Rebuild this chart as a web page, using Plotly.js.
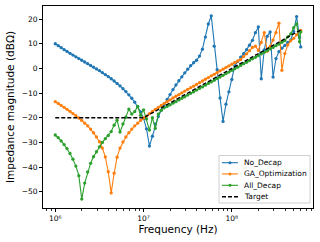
<!DOCTYPE html>
<html>
<head>
<meta charset="utf-8">
<script src="https://cdn.plot.ly/plotly-3.0.1.min.js"></script>
<style>html,body{margin:0;padding:0;background:#fff;}#chart{width:320px;height:242px;}</style>
</head>
<body>
<div id="chart"></div>
<script>
// Frequency samples (MHz)
var freqMHz = [1.000, 1.080, 1.166, 1.259, 1.359, 1.468, 1.585, 1.711, 1.848, 1.995,
  2.154, 2.326, 2.512, 2.712, 2.929, 3.162, 3.415, 3.687, 3.981, 4.299,
  4.642, 5.012, 5.412, 5.843, 6.310, 6.813, 7.356, 7.943, 8.577, 9.261,
  10.00, 10.80, 11.66, 12.59, 13.59, 14.68, 15.85, 17.11, 18.48, 19.95,
  21.54, 23.26, 25.12, 27.12, 29.29, 31.62, 34.15, 36.87, 39.81, 42.99,
  46.42, 50.12, 54.12, 58.43, 63.10, 68.13, 73.56, 79.43, 85.77, 92.61,
  100.0, 108.0, 116.6, 125.9, 135.9, 146.8, 158.5, 171.1, 184.8, 199.5,
  215.4, 232.6, 251.2, 271.2, 292.9, 316.2, 341.5, 368.7, 398.1, 429.9,
  464.2, 501.2, 541.2, 584.3, 602.6];

var noDecap = [10.0, 9.2, 8.4, 7.6, 6.9, 6.1, 5.4, 4.7, 4.0, 3.3,
  2.6, 1.9, 1.2, 0.5, -0.2, -0.9, -1.7, -2.5, -3.3, -4.2,
  -5.1, -6.1, -7.1, -8.2, -9.4, -10.7, -12.1, -13.7, -15.5, -17.6,
  -20.3, -24.5, -31.5, -27.5, -22.5, -19.5, -17.0, -14.7, -12.6, -10.6,
  -8.6, -6.7, -5.0, -3.4, -1.8, -0.3, 1.1, 2.3, 3.3, 5.0,
  7.8, 12.7, 18.0, 21.3, 9.0, -0.5, -12.0, -21.5, -14.5, -9.5,
  -4.5, 1.0, 2.8, 4.6, 6.0, 7.6, 9.4, 11.4, 14.5, 16.8,
  -4.2, 7.5, 13.0, 14.8, -3.5, 4.0, 6.8, 8.2, 9.3, 10.5,
  11.5, 15.0, 21.0, 12.5, 8.7];

var gaOptimization = [-13.5, -14.2, -15.0, -15.8, -16.6, -17.4, -18.3, -19.2, -20.1, -21.1,
  -22.2, -23.3, -24.6, -26.1, -27.8, -29.7, -32.3, -35.9, -41.9, -50.5,
  -42.5, -36.0, -32.3, -29.8, -27.8, -26.1, -24.6, -23.3, -22.2, -21.1,
  -20.1, -19.4, -18.3, -17.4, -16.6, -15.8, -15.0, -14.2, -13.5, -12.8,
  -12.0, -11.3, -10.6, -9.9, -9.2, -8.5, -7.8, -7.2, -6.5, -5.8,
  -5.1, -4.4, -3.7, -3.0, -2.4, -1.7, -1.0, -0.3, 0.4, 1.0,
  1.7, 2.4, 3.0, 3.6, 4.8, 5.9, 7.2, 8.5, 9.0, 7.3,
  10.5, 14.5, 7.0, 8.9, 11.5, 14.5, 18.3, -0.8, 6.0, 9.5,
  11.2, 12.2, 13.6, 15.0, 15.4];

var allDecap = [-27.0, -28.1, -29.4, -30.9, -32.5, -34.5, -36.8, -39.6, -43.5, -53.0,
  -46.5, -42.0, -38.5, -35.8, -33.8, -31.8, -30.0, -28.5, -27.2, -25.6,
  -23.0, -21.0, -25.8, -22.5, -19.8, -16.5, -18.5, -17.5, -15.4, -19.0,
  -16.8, -20.5, -25.0, -20.0, -24.3, -18.5, -17.0, -16.0, -15.4, -14.8,
  -14.1, -13.5, -12.8, -12.1, -11.5, -10.8, -10.1, -9.5, -8.8, -8.1,
  -7.5, -6.8, -6.1, -5.5, -4.8, -4.1, -3.5, -2.8, -2.1, -1.5,
  -0.8, -0.1, 0.5, 1.2, 1.9, 2.5, 3.2, 3.9, 4.5, 5.2,
  5.9, 6.5, 7.2, 7.9, 8.5, 9.2, 9.9, 10.6, 11.3, 12.8,
  14.0, 16.5, 18.0, 10.8, 14.8];

var targetFreqMHz = [1.0, 10.0, 602.6];
var target = [-20.0, -20.0, 15.6];

var seriesNames = ["No_Decap", "GA_Optimization", "All_Decap", "Target"];
var seriesColors = ["#1f77b4", "#ff7f0e", "#2ca02c", "#000000"];

var xTickVals = [1e6, 1e7, 1e8];
var xTickText = ["10⁶", "10⁷", "10⁸"];
var xMinorVals = [8e5, 9e5, 2e6, 3e6, 4e6, 5e6, 6e6, 7e6, 8e6, 9e6,
  2e7, 3e7, 4e7, 5e7, 6e7, 7e7, 8e7, 9e7, 2e8, 3e8, 4e8, 5e8, 6e8, 7e8, 8e8];

function hz(a) { return a.map(function (v) { return v * 1e6; }); }
var f = hz(freqMHz);
var series = [noDecap, gaOptimization, allDecap];

var traces = series.map(function (ys, i) {
  return {
    x: f, y: ys, type: "scatter", mode: "lines+markers", name: seriesNames[i],
    line: { color: seriesColors[i], width: 1.1 },
    marker: { color: seriesColors[i], size: 3.3 },
    showlegend: false
  };
});
traces.push({
  x: hz(targetFreqMHz), y: target, type: "scatter", mode: "lines", name: seriesNames[3],
  line: { color: seriesColors[3], width: 1.4, dash: "4px,2px" }, showlegend: false
});

// plot area in pixels
var L = 43, R = 7, T = 6, B = 34, W = 320, H = 242;
var pw = W - L - R, ph = H - T - B;
function px2x(p) { return (p - L) / pw; }
function px2y(p) { return (H - B - p) / ph; }

var shapes = [{
  type: "rect", xref: "paper", yref: "paper",
  x0: px2x(219), x1: px2x(310), y0: px2y(203), y1: px2y(155.5),
  line: { color: "#d0d0d0", width: 1 }, fillcolor: "rgba(255,255,255,0.85)"
}];
var annotations = [];
var rowY = [162.7, 173.9, 185.3, 196.8];
seriesNames.forEach(function (n, i) {
  var y = px2y(rowY[i]);
  shapes.push({
    type: "line", xref: "paper", yref: "paper",
    x0: px2x(222), x1: px2x(238), y0: y, y1: y,
    line: { color: seriesColors[i], width: i === 3 ? 1.4 : 1.1, dash: i === 3 ? "4px,2px" : "solid" }
  });
  if (i < 3) {
    shapes.push({
      type: "circle", xref: "paper", yref: "paper",
      x0: px2x(228.5), x1: px2x(231.5), y0: px2y(rowY[i] + 1.5), y1: px2y(rowY[i] - 1.5),
      fillcolor: seriesColors[i], line: { color: seriesColors[i], width: 0 }
    });
  }
  annotations.push({
    xref: "paper", yref: "paper", x: px2x(242), y: y, text: n, showarrow: false,
    xanchor: "left", yanchor: "middle", font: { size: 7.5, color: "#000", family: "DejaVu Sans" }
  });
});

var layout = {
  width: W, height: H,
  margin: { l: L, r: R, t: T, b: B, pad: 0 },
  paper_bgcolor: "#fff", plot_bgcolor: "#fff",
  font: { family: "DejaVu Sans", size: 7.5, color: "#000" },
  xaxis: {
    type: "log", range: [5.861, 8.919],
    tickmode: "array", tickvals: xTickVals, ticktext: xTickText,
    ticks: "outside", ticklen: 3, tickwidth: 1, tickcolor: "#000",
    minor: { tickmode: "array", tickvals: xMinorVals, ticks: "outside", ticklen: 2, tickwidth: 0.8, tickcolor: "#000", showgrid: false },
    showline: true, mirror: true, linecolor: "#000", linewidth: 1,
    showgrid: false, zeroline: false,
    tickfont: { size: 7.5 },
    title: { text: "Frequency (Hz)", font: { size: 10.5 }, standoff: 3 }
  },
  yaxis: {
    range: [-56.6, 25.3], tick0: 0, dtick: 10,
    ticks: "outside", ticklen: 3, tickwidth: 1, tickcolor: "#000",
    showline: true, mirror: true, linecolor: "#000", linewidth: 1,
    showgrid: false, zeroline: false,
    tickfont: { size: 7.5 },
    title: { text: "Impedance magnitude (dBΩ)", font: { size: 10.5 }, standoff: 4 }
  },
  shapes: shapes,
  annotations: annotations,
  showlegend: false
};

Plotly.newPlot("chart", traces, layout, { staticPlot: true, displayModeBar: false });
</script>
</body>
</html>
